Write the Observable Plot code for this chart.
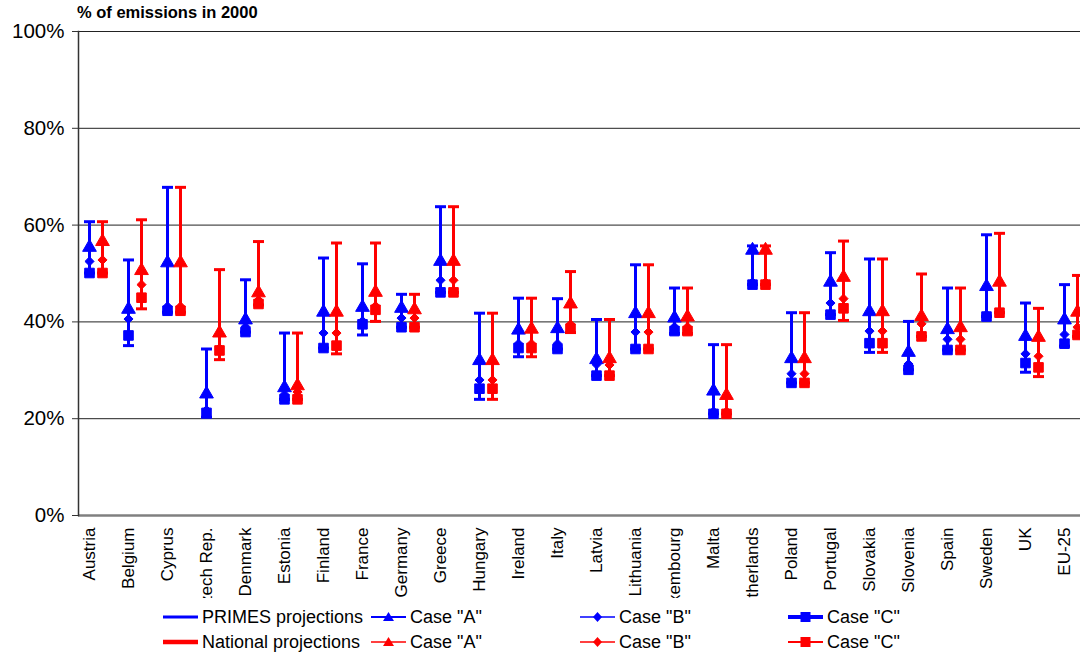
<!DOCTYPE html>
<html>
<head>
<meta charset="utf-8">
<script src="https://cdn.jsdelivr.net/npm/d3@7"></script>
<script src="https://cdn.jsdelivr.net/npm/@observablehq/plot@0.6"></script>
<style>
  html, body { margin: 0; padding: 0; background: white; overflow: hidden; }
  body { width: 1080px; height: 657px; font-family: "Liberation Sans", Arial, sans-serif; position: relative; }
  #title { position: absolute; left: 77px; top: 4px; font-weight: bold; font-size: 16.5px; line-height: 16px; color: #000; z-index: 2; }
  #chart svg { display: block; }
  #legend { position: relative; height: 59px; font-size: 18px; color: #000; }
  .item { position: absolute; display: flex; align-items: center; height: 24px; white-space: nowrap; }
  .item svg { display: block; margin-right: 4px; }
</style>
</head>
<body>
<div id="title">% of emissions in 2000</div>
<div id="chart"></div>
<div id="legend"></div>
<script>
const countries = ["Austria","Belgium","Cyprus","Czech Rep.","Denmark","Estonia","Finland","France","Germany","Greece","Hungary","Ireland","Italy","Latvia","Lithuania","Luxembourg","Malta","Netherlands","Poland","Portugal","Slovakia","Slovenia","Spain","Sweden","UK","EU-25"];

// PRIMES projections (% of emissions in 2000)
const primesHigh = [60.7,52.8,67.8,34.4,48.7,37.7,53.2,52.0,45.7,63.8,41.8,44.9,44.8,40.5,51.8,47.0,35.3,55.7,41.9,54.3,53.0,40.1,47.0,58.0,43.9,47.7];
const primesA    = [55.4,42.6,52.2,25.1,40.4,26.4,42.0,43.0,42.8,52.5,32.0,38.3,38.6,32.2,41.7,40.8,25.7,54.8,32.4,48.2,42.1,33.7,38.4,47.3,37.0,40.4];
const primesB    = [52.5,40.6,43.2,21.8,39.0,25.0,37.7,40.2,40.8,48.6,28.0,35.5,35.5,31.2,37.9,39.0,21.5,48.2,29.3,43.9,38.1,31.3,36.4,41.5,33.4,37.4];
const primesC    = [50.1,37.2,42.3,21.2,37.9,24.0,34.6,39.5,38.9,46.1,26.2,34.6,34.4,28.9,34.4,38.1,21.0,47.7,27.4,41.5,35.6,30.1,34.2,41.1,31.5,35.5];
const primesLow  = [50.1,35.1,42.0,20.3,37.9,24.0,34.6,37.3,38.9,46.1,24.0,32.8,34.4,28.9,34.4,37.6,21.0,47.7,27.4,41.5,33.7,30.1,34.2,41.1,29.6,35.0];

// National projections (% of emissions in 2000)
const nationalHigh = [60.7,61.1,67.8,50.8,56.6,37.7,56.3,56.3,45.7,63.8,41.8,44.9,50.4,40.5,51.8,47.0,35.3,55.7,41.9,56.7,53.0,49.9,47.0,58.3,42.8,49.6];
const nationalA    = [56.6,50.6,52.2,37.7,46.0,26.8,42.0,46.1,42.5,52.5,32.0,38.5,43.7,32.4,41.7,41.0,24.8,54.8,32.4,49.2,42.1,41.1,38.8,48.2,36.8,42.0];
const nationalB    = [52.8,47.7,43.2,34.6,44.5,25.5,37.7,43.3,40.8,48.6,28.0,35.5,39.5,31.1,37.9,39.0,21.5,48.2,29.3,44.8,38.1,39.6,36.4,42.2,32.9,38.9];
const nationalC    = [50.1,45.0,42.3,34.1,43.7,24.0,35.1,42.5,38.9,46.1,26.2,34.6,38.6,28.9,34.4,38.1,21.0,47.7,27.4,42.8,35.6,37.0,34.2,41.9,30.6,37.3];
const nationalLow  = [50.1,42.7,42.0,32.2,43.5,24.0,33.4,40.1,38.9,46.1,24.0,32.8,37.8,28.9,34.4,37.6,21.0,47.7,27.4,40.3,33.7,37.0,34.2,41.9,28.7,37.0];

const yTicks = [0, 20, 40, 60, 80, 100];

const series = [
  {name: "PRIMES projections", color: "#0000ff", dx: 0,  high: primesHigh, a: primesA, b: primesB, c: primesC, low: primesLow},
  {name: "National projections", color: "#ff0000", dx: 13, high: nationalHigh, a: nationalA, b: nationalB, c: nationalC, low: nationalLow}
];

const capSymbol = { draw(ctx) { ctx.moveTo(-5.5, 0); ctx.lineTo(5.5, 0); } };
const diamondSymbol = d3.symbolDiamond2 || d3.symbolDiamond;

function seriesMarks(s) {
  const rows = countries.map((c, i) => ({country: c, high: s.high[i], a: s.a[i], b: s.b[i], c: s.c[i], low: s.low[i]}));
  return [
    Plot.ruleX(rows, {x: "country", y1: "low", y2: "high", stroke: s.color, strokeWidth: 3, dx: s.dx}),
    Plot.dot(rows, {x: "country", y: "high", symbol: capSymbol, r: 3, fill: "none", stroke: s.color, strokeWidth: 3, dx: s.dx}),
    Plot.dot(rows, {x: "country", y: "low", symbol: capSymbol, r: 3, fill: "none", stroke: s.color, strokeWidth: 3, dx: s.dx}),
    Plot.dot(rows, {x: "country", y: "a", symbol: "triangle", r: 5.1, fill: s.color, stroke: s.color, strokeWidth: 1, dx: s.dx}),
    Plot.dot(rows, {x: "country", y: "b", symbol: diamondSymbol, r: 4.1, fill: s.color, stroke: s.color, strokeWidth: 1, dx: s.dx}),
    Plot.dot(rows, {x: "country", y: "c", symbol: "square", r: 5.4, fill: s.color, stroke: s.color, strokeWidth: 1, dx: s.dx})
  ];
}

const chart = Plot.plot({
  width: 1080,
  height: 598,
  marginTop: 31,
  marginBottom: 83,
  marginLeft: 78,
  marginRight: 0,
  style: {fontFamily: "'Liberation Sans', Arial, sans-serif", fontSize: "17px", color: "#000", background: "white", overflow: "hidden"},
  x: {type: "point", domain: countries, range: [86, 1067], padding: 0},
  y: {domain: [0, 100]},
  marks: [
    Plot.ruleY(yTicks.filter(d => d > 0), {stroke: "#222", strokeWidth: 1}),
    Plot.ruleY([0], {stroke: "#808080", strokeWidth: 2.5}),
    Plot.frame({anchor: "left", stroke: "#333", strokeWidth: 1.5}),
    Plot.axisY({ticks: yTicks, tickFormat: d => d + "%", tickSize: 6, tickPadding: 8, fontSize: 20.5, label: null, stroke: "#333"}),
    Plot.axisX({tickSize: 0, tickRotate: -90, tickPadding: 12, fontSize: 17, label: null}),
    ...seriesMarks(series[0]),
    ...seriesMarks(series[1])
  ]
});
document.getElementById("chart").appendChild(chart);

// Legend
const legend = document.getElementById("legend");
const rowsY = [7, 32];
const legendItems = [
  {x: 163, kind: "line"},
  {x: 371, kind: "triangle", label: 'Case "A"'},
  {x: 580, kind: "diamond", label: 'Case "B"'},
  {x: 788, kind: "square", label: 'Case "C"'}
];
const lineWidths = {
  line: [3, 4.5], triangle: [2, 1.5], diamond: [1.5, 1.5], square: [4, 2]
};
series.forEach((s, si) => {
  legendItems.forEach(it => {
    const div = document.createElement("div");
    div.className = "item";
    div.style.left = it.x + "px";
    div.style.top = rowsY[si] + "px";
    const sw = lineWidths[it.kind][si];
    let marker = "";
    if (it.kind === "triangle") marker = `<path d="M17.5,7 L23,16 L12,16 Z" fill="${s.color}"/>`;
    if (it.kind === "diamond") marker = `<path d="M17.5,7 L22,12 L17.5,17 L13,12 Z" fill="${s.color}"/>`;
    if (it.kind === "square") marker = `<rect x="12.5" y="7" width="10" height="10" fill="${s.color}"/>`;
    div.innerHTML = `<svg width="35" height="24"><line x1="0" x2="35" y1="12" y2="12" stroke="${s.color}" stroke-width="${sw}"/>${marker}</svg><span>${it.kind === "line" ? s.name : it.label}</span>`;
    legend.appendChild(div);
  });
});
</script>
</body>
</html>
